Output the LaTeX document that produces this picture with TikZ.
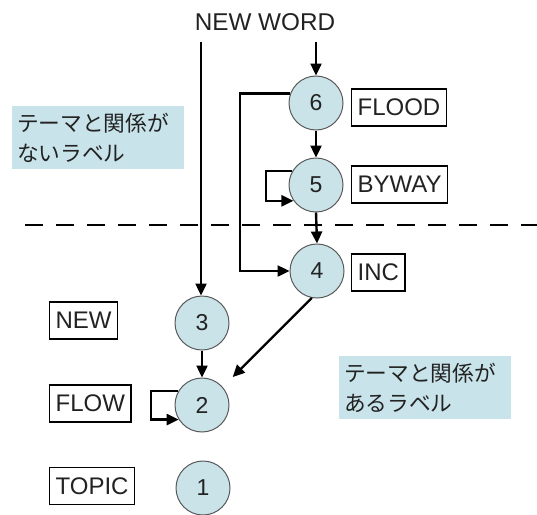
\documentclass[tikz,border=0pt]{standalone}
\usepackage{fontspec}
\setmainfont{Liberation Sans}
\newfontfamily\jp{Noto Sans CJK JP}
\usetikzlibrary{arrows.meta,calc}
\definecolor{nodefill}{HTML}{C9E3E8}
\definecolor{notefill}{HTML}{C8E4EA}
\definecolor{txt}{HTML}{222222}
\begin{document}
\begin{tikzpicture}[x=1pt,y=-1pt,
  every node/.style={text=txt},
  num/.style={circle,draw=black!65,line width=1pt,fill=nodefill,minimum size=54pt,inner sep=0pt,font=\fontsize{23}{26}\selectfont},
  lbl/.style={draw=black,line width=1.2pt,anchor=west,minimum height=37pt,inner xsep=6pt,inner ysep=0pt,font=\fontsize{24}{28}\selectfont},
  note/.style={fill=notefill,minimum width=172pt,minimum height=63pt,text width=162pt,align=left,inner xsep=5pt,font=\jp\fontsize{21.7}{30}\selectfont},
  arr/.style={line width=2.4pt,-{Triangle[length=12pt,width=11pt]}},
  ln/.style={line width=2.6pt}]
\useasboundingbox (0,0) rectangle (537,514);
% nodes
\node[num] (n6) at (316,103) {6};
\node[num] (n5) at (316,185) {5};
\node[num] (n4) at (317,271) {4};
\node[num] (n3) at (202,323) {3};
\node[num] (n2) at (202,405) {2};
\node[num] (n1) at (203,488) {1};
\node[lbl] (l6) at (351,107.5) {FLOOD};
\node[lbl] (l5) at (351,184.5) {BYWAY};
\node[lbl] (l4) at (351,272.5) {INC};
\node[lbl] (l3) at (49,320.5) {NEW};
\node[lbl] (l2) at (49,403.5) {FLOW};
\node[lbl] (l1) at (49,486) {TOPIC};
\node[font=\fontsize{24.3}{28}\selectfont] (nw) at (265,22) {NEW WORD};
\node[note] (t1) at (98,137.5) {テーマと関係が\\ないラベル};
\node[note] (t2) at (425,387.5) {テーマと関係が\\あるラベル};
% dashed separator
\coordinate (dl) at (25,225);
\coordinate (dr) at (537,225);
\draw[ln,dash pattern=on 18pt off 13pt] (dl) -- (dr);
% connectors
\coordinate (s3) at (201,42);
\coordinate (s6) at (316,42);
\draw[arr] (s3) -- (s3 |- n3.north);
\draw[arr] (s6) -- (n6.north);
\draw[arr] (n6.south) -- (n5.north);
\draw[arr] (n5.south) -- (n4.north);
\draw[arr] (n3.south) -- (n2.north);
\draw[arr] (n6.160) -- ++(-50,0) |- (n4.west);
\draw[arr] (n5.150) -- ++(-26,0) |- (n5.215);
\draw[arr] (n2.150) -- ++(-27,0) |- (n2.212);
\draw[arr,shorten >=14pt] (n4.259) -- (n2.41);
\end{tikzpicture}
\end{document}
